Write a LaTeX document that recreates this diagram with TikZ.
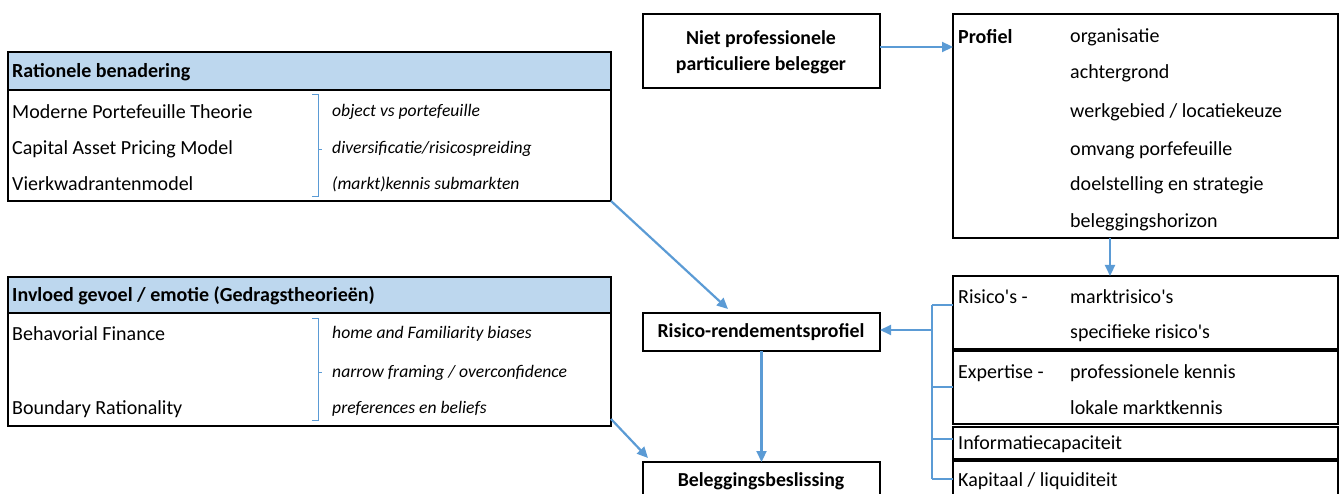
\documentclass[tikz,border=0pt]{standalone}
\usepackage{fontspec}
\setmainfont{Carlito}
\usetikzlibrary{arrows.meta}
\definecolor{flowblue}{HTML}{5B9BD5}
\definecolor{headfill}{HTML}{BDD7EE}
\tikzset{
  frame/.style={draw=black, line width=2.8pt, fill=white, inner sep=0pt, outer sep=0pt, anchor=north west},
  headbar/.style={frame, fill=headfill},
  txt/.style={anchor=west, inner sep=0pt, font=\fontsize{20}{24}\selectfont},
  itxt/.style={txt, font=\fontsize{17.6}{22}\selectfont\itshape},
  btxt/.style={txt, font=\fontsize{20}{24}\selectfont\bfseries},
  ctxt/.style={inner sep=0pt, font=\fontsize{19.8}{24}\selectfont\bfseries},
  flow/.style={draw=flowblue, line width=2.2pt, -{Triangle[length=11pt,width=10pt]}},
  link/.style={draw=flowblue, line width=2.2pt},
  brace/.style={draw=flowblue, line width=0.8pt},
}
\begin{document}
\begin{tikzpicture}[x=1pt, y=-1pt]
\useasboundingbox (0,0) rectangle (1341,494);
\clip (0,0) rectangle (1341,494);

% --- Rationele benadering ---
\node[frame, minimum width=603, minimum height=149] (rat) at (8,52) {};
\node[headbar, minimum width=603, minimum height=38] (rathead) at (8,52) {};
\node[btxt] (rattitle) at (12,72) {Rationele benadering};
\node[txt] (r1) at (12,112) {Moderne Portefeuille Theorie};
\node[txt] (r2) at (12,149) {Capital Asset Pricing Model};
\node[txt] (r3) at (12,184) {Vierkwadrantenmodel};
\node[itxt] (ri1) at (332,112) {object vs portefeuille};
\node[itxt] (ri2) at (332,149) {diversificatie/risicospreiding};
\node[itxt] (ri3) at (332,184) {(markt)kennis submarkten};
\draw[brace] (312,94) -- (318,94) -- (318,196) -- (312,196) (318,149) -- (322,149);

% --- Invloed gevoel / emotie ---
\node[frame, minimum width=603, minimum height=149] (emo) at (8,277) {};
\node[headbar, minimum width=603, minimum height=36] (emohead) at (8,277) {};
\node[btxt] (emotitle) at (12,296) {Invloed gevoel / emotie (Gedragstheorieën)};
\node[txt] (e1) at (12,334) {Behavorial Finance};
\node[txt] (e3) at (12,409) {Boundary Rationality};
\node[itxt] (ei1) at (332,334) {home and Familiarity biases};
\node[itxt] (ei2) at (332,373) {narrow framing / overconfidence};
\node[itxt] (ei3) at (332,409) {preferences en beliefs};
\draw[brace] (312,318) -- (318,318) -- (318,420) -- (312,420) (318,372) -- (322,372);

% --- Centre column ---
\node[frame, minimum width=237, minimum height=74] (npb) at (643,14) {};
\node[align=center, inner sep=0pt, font=\fontsize{19.8}{26}\selectfont\bfseries] (npbtext) at (761,52) {Niet professionele\\particuliere belegger};
\node[frame, minimum width=237, minimum height=38] (rrp) at (643,313) {};
\node[ctxt] (rrptext) at (761,332) {Risico-rendementsprofiel};
\node[frame, minimum width=237, minimum height=50] (bb) at (643,462) {};
\node[ctxt] (bbtext) at (761,481) {Beleggingsbeslissing};

% --- Profiel ---
\node[frame, minimum width=385, minimum height=224] (prof) at (953,14) {};
\node[btxt] (proftitle) at (958,37) {Profiel};
\node[txt] (p1) at (1070,37) {organisatie};
\node[txt] (p2) at (1070,73) {achtergrond};
\node[txt] (p3) at (1070,112) {werkgebied / locatiekeuze};
\node[txt] (p4) at (1070,150) {omvang porfefeuille};
\node[txt] (p5) at (1070,185) {doelstelling en strategie};
\node[txt] (p6) at (1070,222) {beleggingshorizon};

% --- Factor boxes ---
\node[frame, minimum width=385, minimum height=73] (ris) at (953,276) {};
\node[frame, minimum width=385, minimum height=73] (exp) at (953,351) {};
\node[frame, minimum width=385, minimum height=32] (inf) at (953,427) {};
\node[frame, minimum width=385, minimum height=50] (kap) at (953,461) {};
\node[txt] (ris1) at (958,297) {Risico\textquotesingle s -};
\node[txt] (ris2) at (1070,297) {marktrisico\textquotesingle s};
\node[txt] (ris3) at (1070,333) {specifieke risico\textquotesingle s};
\node[txt] (exp1) at (958,373) {Expertise -};
\node[txt] (exp2) at (1070,373) {professionele kennis};
\node[txt] (exp3) at (1070,408) {lokale marktkennis};
\node[txt] (inf1) at (958,444) {Informatiecapaciteit};
\node[txt] (kap1) at (958,481) {Kapitaal / liquiditeit};

% --- Connectors ---
\draw[flow] (npb.east |- 0,47) -- (prof.west |- 0,47);
\draw[flow] (prof.south -| 1110,0) -- (ris.north -| 1110,0);
\draw[flow] (rat.south east) -- (728,309);
\draw[flow] (emo.east |- 0,419) -- (648,458);
\draw[flow] (rrp.south) -- (bb.north);

\coordinate (busT) at (932,305);
\coordinate (busB) at (932,479);
\coordinate (busM) at (932,330);
\draw[link] (busT) -- (busB);
\draw[link] (busT) -- (ris.west |- busT);
\draw[link] (932,387) -- (exp.west |- 0,387);
\draw[link] (932,439) -- (inf.west |- 0,439);
\draw[link] (busB) -- (kap.west |- busB);
\draw[flow] (busM) -- (rrp.east |- busM);
\end{tikzpicture}
\end{document}
